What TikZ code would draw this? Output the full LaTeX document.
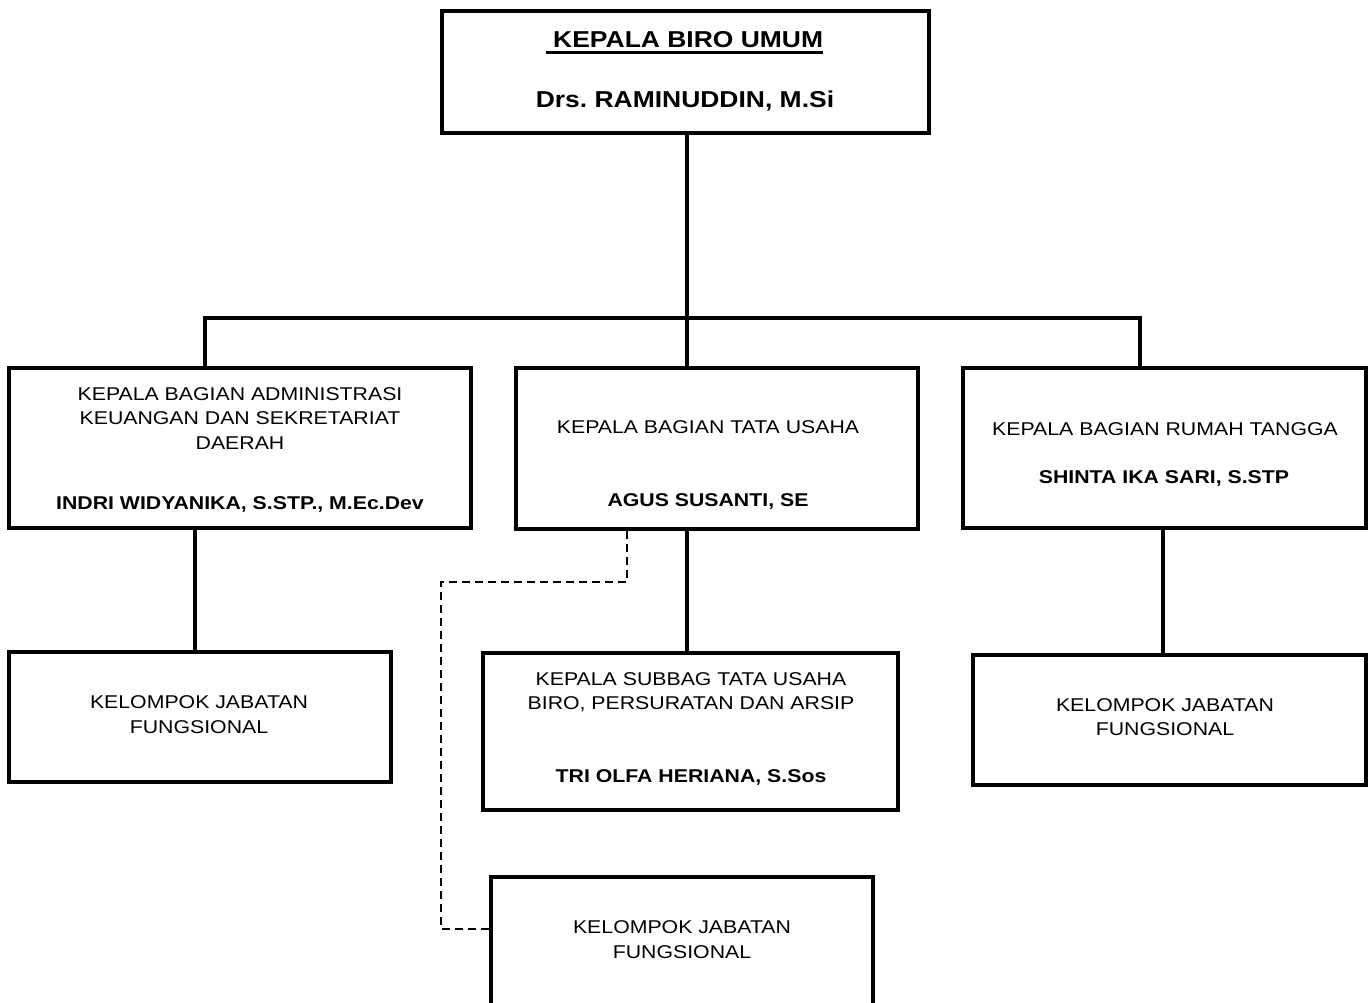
\documentclass[tikz,border=0pt]{standalone}
\usepackage{fontspec}
\setmainfont{Liberation Sans}[FakeStretch=1.15]
\frenchspacing
\newcommand{\garisbawah}[1]{\setbox0\hbox{#1}\rlap{\rule[-5.8pt]{\wd0}{3pt}}\box0}
\begin{document}
\begin{tikzpicture}[x=1pt, y=-1pt,
    kotak/.style={draw, line width=3.8pt, inner sep=0pt},
    garis/.style={line width=3.6pt},
    putus/.style={line width=2pt, dash pattern=on 8pt off 5pt},
    teks/.style={anchor=base, inner sep=0pt, font=\fontsize{18.5}{25}\selectfont},
    tebal/.style={teks, font=\fontsize{18.5}{25}\selectfont\bfseries},
    judul/.style={teks, font=\fontsize{23}{28}\selectfont\bfseries}]
\useasboundingbox (0,0) rectangle (1371,1003);

\node[kotak, minimum width=487pt, minimum height=122pt] (boss) at (685.5,72) {};
\node[kotak, minimum width=462pt, minimum height=160pt] (adm) at (240,448) {};
\node[kotak, minimum width=402pt, minimum height=161pt] (tu) at (717,448.5) {};
\node[kotak, minimum width=403pt, minimum height=160pt] (rt) at (1164.5,448) {};
\node[kotak, minimum width=382pt, minimum height=130pt] (kjfL) at (200,717) {};
\node[kotak, minimum width=415pt, minimum height=157pt] (sub) at (690.5,731.5) {};
\node[kotak, minimum width=393pt, minimum height=130pt] (kjfR) at (1169.5,720) {};
\node[kotak, minimum width=382pt, minimum height=160pt] (kjfB) at (682,957) {};

\node[judul] (bossA) at (684.5,48) {\garisbawah{\ KEPALA BIRO UMUM}};
\node[judul] (bossB) at (685,108) {Drs. RAMINUDDIN, M.Si};

\node[teks] (admA) at (240,400) {KEPALA BAGIAN ADMINISTRASI};
\node[teks] (admB) at (240,424.5) {KEUANGAN DAN SEKRETARIAT};
\node[teks] (admC) at (240,449.5) {DAERAH};
\node[tebal] (admD) at (240,509) {INDRI WIDYANIKA, S.STP., M.Ec.Dev};

\node[teks] (tuA) at (708,433) {KEPALA BAGIAN TATA USAHA};
\node[tebal] (tuB) at (708,506.5) {AGUS SUSANTI, SE};

\node[teks] (rtA) at (1165,435.5) {KEPALA BAGIAN RUMAH TANGGA};
\node[tebal] (rtB) at (1164,483) {SHINTA IKA SARI, S.STP};

\node[teks] (kjfLA) at (199,708) {KELOMPOK JABATAN};
\node[teks] (kjfLB) at (199,733) {FUNGSIONAL};

\node[teks] (subA) at (691,685) {KEPALA SUBBAG TATA USAHA};
\node[teks] (subB) at (691,709) {BIRO, PERSURATAN DAN ARSIP};
\node[tebal] (subC) at (691,782.5) {TRI OLFA HERIANA, S.Sos};

\node[teks] (kjfRA) at (1165,711) {KELOMPOK JABATAN};
\node[teks] (kjfRB) at (1165,735.5) {FUNGSIONAL};

\node[teks] (kjfBA) at (682,933) {KELOMPOK JABATAN};
\node[teks] (kjfBB) at (682,958) {FUNGSIONAL};

\coordinate (bus) at (687,318);
\coordinate (busL) at (205,318);
\coordinate (busR) at (1140,318);
\coordinate (lajurL) at (195,600);
\coordinate (lajurR) at (1163,600);
\coordinate (belok) at (441,582);

\draw[garis] (bus |- boss.south) -- (bus |- tu.north);
\draw[garis] (busL |- adm.north) -- (busL) -- (busR) -- (busR |- rt.north);
\draw[garis] (lajurL |- adm.south) -- (lajurL |- kjfL.north);
\draw[garis] (bus |- tu.south) -- (bus |- sub.north);
\draw[garis] (lajurR |- rt.south) -- (lajurR |- kjfR.north);
\draw[putus] ([xshift=-90pt]tu.south) |- (belok) |- ([yshift=-54pt]kjfB.north west);
\end{tikzpicture}
\end{document}
